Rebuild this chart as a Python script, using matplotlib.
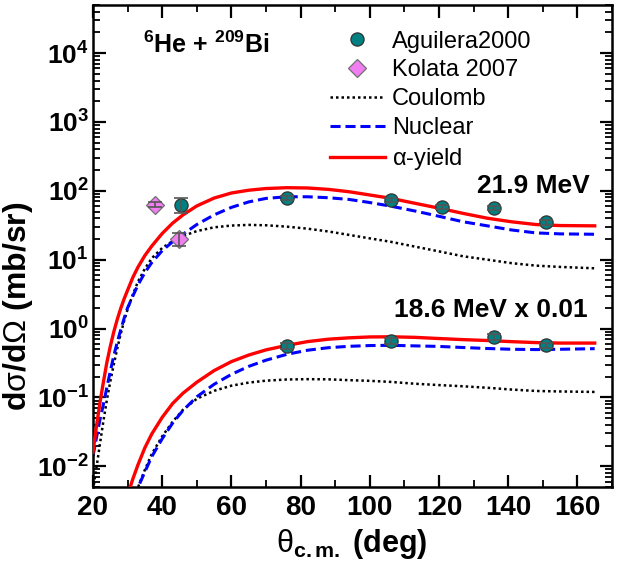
import math
import matplotlib
matplotlib.use("Agg")
import matplotlib.pyplot as plt
from matplotlib.lines import Line2D
from matplotlib.ticker import FixedLocator, FuncFormatter, LogLocator, NullFormatter

plt.rcParams['font.family'] = ['Liberation Sans', 'DejaVu Sans']
plt.rcParams['mathtext.fontset'] = 'custom'
plt.rcParams['mathtext.rm'] = 'Liberation Sans'
plt.rcParams['mathtext.it'] = 'Liberation Sans:italic'
plt.rcParams['mathtext.bf'] = 'Liberation Sans:bold'

# ---------------- data ----------------
# 21.9 MeV curves
theta_hi = [20, 21, 22, 23, 24, 25, 26, 27, 28, 29, 30, 31.5, 33, 35, 37, 40, 43, 46, 50, 55,
            60, 65, 70, 76, 82, 88, 94, 100, 106, 113, 120, 127, 134, 141, 148, 155, 165]
alpha_hi = [0.016, 0.038, 0.083, 0.166, 0.32, 0.55, 0.89, 1.35, 1.95, 2.7, 3.6, 5.5, 7.8, 11.5,
            15.8, 24, 33.9, 44.7, 60.3, 78.5, 93, 102, 108, 111, 110, 105, 97, 87, 78, 66, 56,
            47, 40, 35.5, 32.4, 31.3, 31]
nuclear_hi = [0.014, 0.026, 0.047, 0.079, 0.138, 0.24, 0.40, 0.63, 0.95, 1.41, 2.0, 2.95, 4.3,
              6.5, 9.1, 13.5, 18.2, 23.4, 32.4, 44.7, 57.5, 69, 77.6, 82, 82, 79.4, 75, 67.6, 60,
              51, 42.7, 35.5, 31, 27, 24.5, 23.7, 23.4]
coulomb_hi = [0.0045, 0.0095, 0.021, 0.045, 0.091, 0.17, 0.30, 0.51, 0.83, 1.29, 1.9, 3.1, 4.8,
              7.4, 10.5, 14.8, 18.6, 22.1, 26, 29.5, 31.3, 32, 31.6, 30.2, 28.2, 25.7, 22.9,
              20.4, 18.2, 15.5, 13.2, 11.2, 10, 8.9, 8.2, 7.85, 7.5]

# 18.6 MeV curves (x 0.01)
theta_lo_a = [30, 31.5, 33, 35, 37, 40, 43, 46, 50, 55, 60, 65, 70, 76, 82, 88, 94, 100, 106,
              113, 120, 127, 134, 141, 148, 155, 165]
alpha_lo = [0.0038, 0.0065, 0.0105, 0.0186, 0.0295, 0.0513, 0.0813, 0.115, 0.166, 0.245, 0.331,
            0.412, 0.49, 0.569, 0.646, 0.70, 0.733, 0.755, 0.759, 0.745, 0.716, 0.69, 0.67,
            0.645, 0.625, 0.615, 0.615]
theta_lo_b = [32, 33.5, 35, 37, 40, 43, 46, 50, 55, 60, 65, 70, 76, 82, 88, 94, 100, 106, 113,
              120, 127, 134, 141, 148, 155, 165]
nuclear_lo = [0.0035, 0.0056, 0.0083, 0.0138, 0.0251, 0.0422, 0.0646, 0.102, 0.155, 0.216,
              0.282, 0.347, 0.422, 0.484, 0.527, 0.552, 0.566, 0.571, 0.56, 0.55, 0.53, 0.513,
              0.50, 0.495, 0.50, 0.51]
coulomb_lo = [0.00355, 0.00575, 0.0089, 0.0151, 0.0272, 0.0442, 0.066, 0.0955, 0.1245, 0.148,
              0.164, 0.175, 0.182, 0.184, 0.183, 0.178, 0.174, 0.168, 0.158, 0.151, 0.145, 0.138,
              0.13, 0.124, 0.122, 0.12]

# experimental data
agu_hi_theta = [45.4, 76, 106, 121, 136, 151]
agu_hi_val = [63, 78, 74, 59, 56, 35]
agu_hi_err = [15, 5, 5, 4, 4, 3]

kol_theta = [38, 45]
kol_val = [63, 20]
kol_err = [5, 4.3]

agu_lo_theta = [76, 106, 136, 151]
agu_lo_val = [0.56, 0.66, 0.76, 0.57]
agu_lo_err = [0.06, 0.06, 0.08, 0.05]

x_ticks = [20, 40, 60, 80, 100, 120, 140, 160]
y_ticks = [1e-2, 1e-1, 1e0, 1e1, 1e2, 1e3, 1e4]

# ---------------- style ----------------
teal = '#008080'
violet = '#F07EF0'
c_red = '#FF0000'
c_blue = '#0000FF'

fig = plt.figure(figsize=(6.3, 5.66), dpi=100)
ax = fig.add_axes([0.1476, 0.1396, 0.8238, 0.8516])

dot_kw = dict(color='black', lw=1.8, linestyle=(0, (1, 1.2)))
dash_kw = dict(color=c_blue, lw=2.2, linestyle=(0, (3.3, 1.6)))
red_kw = dict(color=c_red, lw=2.4, linestyle='-')

ax.plot(theta_hi, coulomb_hi, **dot_kw, zorder=2)
ax.plot(theta_hi, nuclear_hi, **dash_kw, zorder=2)
ax.plot(theta_hi, alpha_hi, **red_kw, zorder=3)
ax.plot(theta_lo_b, coulomb_lo, **dot_kw, zorder=2)
ax.plot(theta_lo_b, nuclear_lo, **dash_kw, zorder=2)
ax.plot(theta_lo_a, alpha_lo, **red_kw, zorder=3)

mk_circ = dict(marker='o', ms=9.5, mfc=teal, mec='#333333', mew=0.9, ls='none')
mk_diam = dict(marker='D', ms=9, mfc=violet, mec='#707070', mew=0.9, ls='none')
eb_kw = dict(fmt='none', ecolor='#555555', elinewidth=1.2, capsize=5, capthick=1.2, zorder=6)

ax.plot(agu_hi_theta, agu_hi_val, **mk_circ, zorder=5)
ax.errorbar(agu_hi_theta, agu_hi_val, yerr=agu_hi_err, **eb_kw)
ax.plot(kol_theta, kol_val, **mk_diam, zorder=5)
ax.errorbar(kol_theta, kol_val, yerr=kol_err, **eb_kw)
ax.plot(agu_lo_theta, agu_lo_val, **mk_circ, zorder=5)
ax.errorbar(agu_lo_theta, agu_lo_val, yerr=agu_lo_err, **eb_kw)

ax.set_yscale('log')
ax.set_xlim(20, 170)
ax.set_ylim(5e-3, 5e4)

ax.xaxis.set_major_locator(FixedLocator(x_ticks))
ax.xaxis.set_minor_locator(FixedLocator(list(range(30, 171, 20))))
ax.yaxis.set_major_locator(FixedLocator(y_ticks))
ax.yaxis.set_minor_locator(LogLocator(base=10, subs=range(2, 10), numticks=20))
ax.yaxis.set_minor_formatter(NullFormatter())

ax.yaxis.set_major_formatter(FuncFormatter(lambda v, p: r'$\mathbf{10^{%d}}$' % round(math.log10(v))))
ax.xaxis.set_major_formatter(FuncFormatter(lambda v, p: '%d' % v))

ax.tick_params(which='both', direction='in', top=True, right=True)
ax.tick_params(which='major', length=9, width=1.6)
ax.tick_params(which='minor', length=5, width=1.3)
ax.tick_params(axis='x', which='major', labelsize=20, pad=6)
ax.tick_params(axis='y', which='major', labelsize=19, pad=3)
for lab in ax.get_xticklabels():
    lab.set_fontweight('bold')
for s in ax.spines.values():
    s.set_linewidth(1.8)

ax.set_xlabel(r'$\mathrm{\theta}_{\mathbf{c.m.}}$ (deg)', fontsize=22, fontweight='bold')
ax.xaxis.set_label_coords(0.498, -0.083)
ax.set_ylabel(r'd$\mathrm{\sigma}$/d$\mathrm{\Omega}$ (mb/sr)', fontsize=23, fontweight='bold')
ax.yaxis.set_label_coords(-0.111, 0.375)

ax.text(0.096, 0.900, r'$^{\mathbf{6}}$He + $^{\mathbf{209}}$Bi', transform=ax.transAxes,
        fontsize=18, fontweight='bold', ha='left', va='baseline')
ax.text(0.958, 0.610, '21.9 MeV', transform=ax.transAxes, fontsize=19, fontweight='bold',
        ha='right', va='baseline')
ax.text(0.954, 0.353, '18.6 MeV x 0.01', transform=ax.transAxes, fontsize=19, fontweight='bold',
        ha='right', va='baseline')

handles = [
    Line2D([], [], **mk_circ),
    Line2D([], [], **mk_diam),
    Line2D([], [], **dot_kw),
    Line2D([], [], **dash_kw),
    Line2D([], [], **red_kw),
]
labels = ['Aguilera2000', 'Kolata 2007', 'Coulomb', 'Nuclear', r'$\mathrm{\alpha}$-yield']
ax.legend(handles, labels, loc='upper left', bbox_to_anchor=(0.4566, 0.947), frameon=False,
          fontsize=17, handlelength=2.33, handletextpad=0.3, labelspacing=0.29,
          borderpad=0, borderaxespad=0)

fig.savefig('out.png', dpi=100)
